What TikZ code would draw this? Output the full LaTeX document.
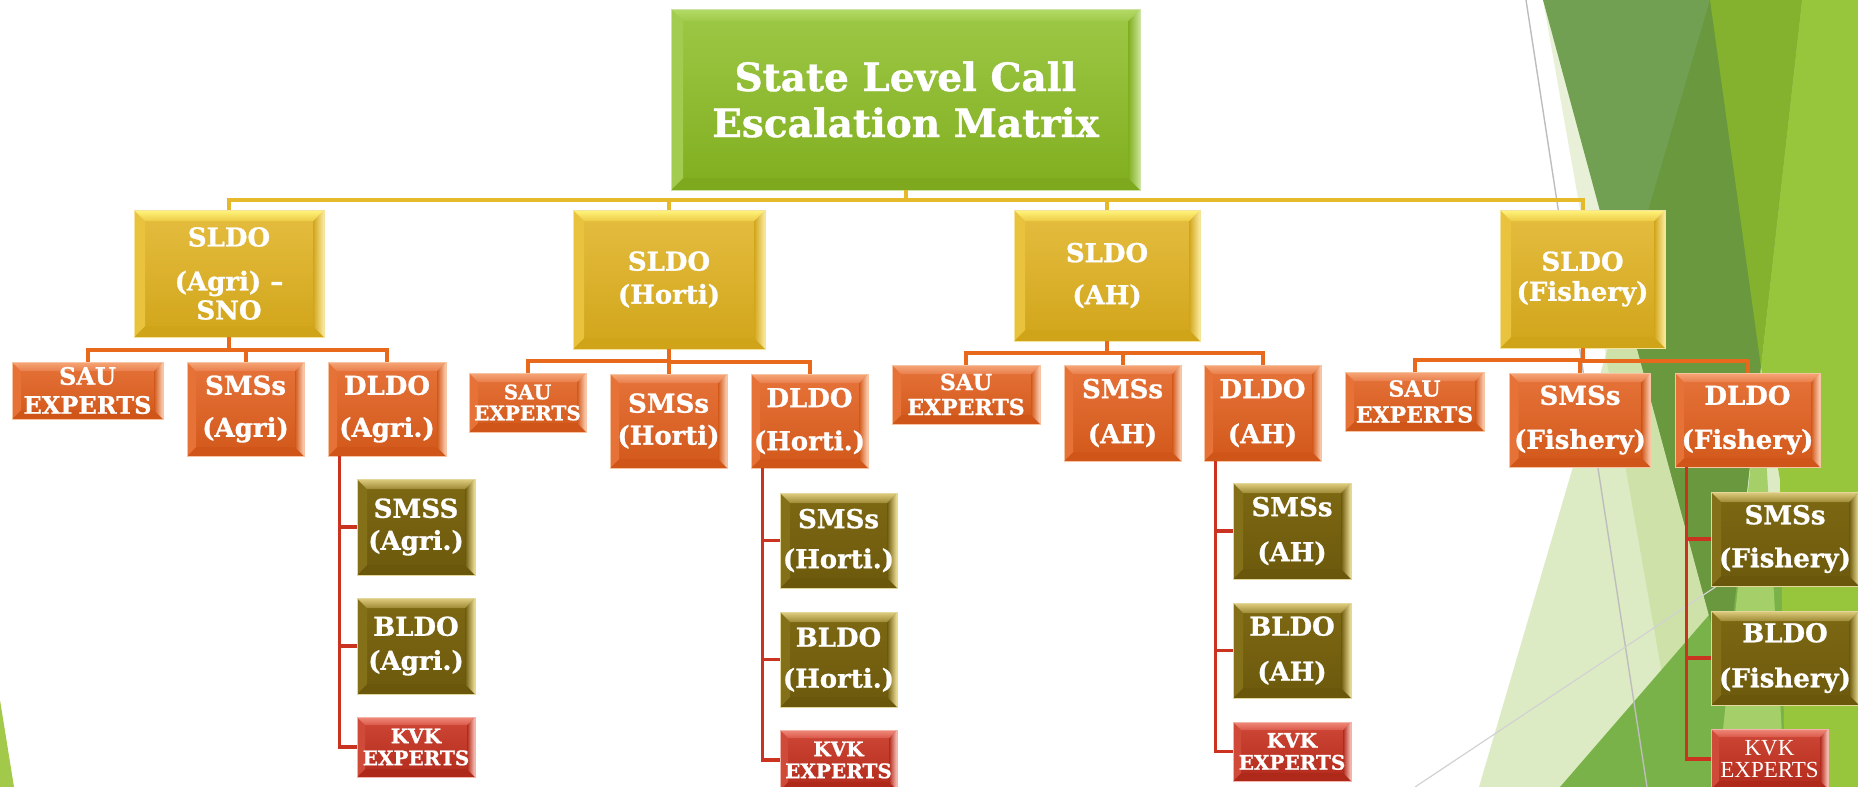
\documentclass[tikz,border=0pt]{standalone}
\usepackage{fontspec}
\setmainfont{DejaVu Serif}[BoldFeatures={FakeBold=1}]
\newfontfamily\thinserif{Liberation Serif}
\usetikzlibrary{calc}

% box colours: face top/bottom, bevels, edge
\definecolor{tFT}{HTML}{9DC847}\definecolor{tFB}{HTML}{80AE1E}
\definecolor{tBT}{HTML}{B4DA66}\definecolor{tBT2}{HTML}{9FCA4A}
\definecolor{tBR}{HTML}{C9E496}\definecolor{tBB}{HTML}{7EA91E}
\definecolor{tBL}{HTML}{A2CC50}\definecolor{tEdge}{HTML}{CDE3A6}

\definecolor{yFT}{HTML}{E5BD40}\definecolor{yFB}{HTML}{D1A51A}
\definecolor{yBT}{HTML}{FFF57E}\definecolor{yBT2}{HTML}{EDCB45}
\definecolor{yBR}{HTML}{FCEBA0}\definecolor{yBB}{HTML}{CFA418}
\definecolor{yBL}{HTML}{E9C33D}\definecolor{yEdge}{HTML}{F6E39A}

\definecolor{oFT}{HTML}{E6733A}\definecolor{oFB}{HTML}{D2581A}
\definecolor{oBT}{HTML}{F7A678}\definecolor{oBT2}{HTML}{E87F4C}
\definecolor{oBR}{HTML}{FCD3B8}\definecolor{oBB}{HTML}{CF5618}
\definecolor{oBL}{HTML}{E67238}\definecolor{oEdge}{HTML}{F6C3A3}

\definecolor{vFT}{HTML}{7D6813}\definecolor{vFB}{HTML}{6C590C}
\definecolor{vBT}{HTML}{E0CE80}\definecolor{vBT2}{HTML}{9E8A35}
\definecolor{vBR}{HTML}{F2E49C}\definecolor{vBB}{HTML}{6A570C}
\definecolor{vBL}{HTML}{85701A}\definecolor{vEdge}{HTML}{E3D79B}

\definecolor{rFT}{HTML}{CF4736}\definecolor{rFB}{HTML}{B22A1B}
\definecolor{rBT}{HTML}{F08A7A}\definecolor{rBT2}{HTML}{D9594A}
\definecolor{rBR}{HTML}{FBC7BE}\definecolor{rBB}{HTML}{AE291A}
\definecolor{rBL}{HTML}{D04A3A}\definecolor{rEdge}{HTML}{F2B4AA}

% connector colours
\definecolor{yLine}{HTML}{E6B92A}
\definecolor{oLine}{HTML}{E8691C}
\definecolor{rLine}{HTML}{C9331F}

% backdrop colours
\definecolor{paleG}{HTML}{DDEBC4}
\definecolor{accentG}{HTML}{8EBC3A}
\definecolor{midG}{HTML}{7AB24A}
\definecolor{mutedG}{HTML}{72A052}
\definecolor{darkG}{HTML}{69983E}
\definecolor{oliveG}{HTML}{84B22F}
\definecolor{brightG}{HTML}{97C63C}
\definecolor{wedgeG}{HTML}{A5CF68}
\definecolor{cornerG}{HTML}{A2C94A}
\definecolor{lineA}{HTML}{BDBDBD}
\definecolor{lineB}{HTML}{D2D2D2}

% bevel faces drawn inside a box: #1 width, #2/#3 top bevel outer/inner,
% #4/#5 right bevel outer/inner, #6 bottom bevel, #7 left bevel
\newcommand{\bevelfaces}[7]{%
  \fill[#6] (path picture bounding box.south west) -- (path picture bounding box.south east)
    -- ([shift={(-#1,#1)}]path picture bounding box.south east)
    -- ([shift={(#1,#1)}]path picture bounding box.south west) -- cycle;
  \fill[#7] (path picture bounding box.north west) -- (path picture bounding box.south west)
    -- ([shift={(#1,#1)}]path picture bounding box.south west)
    -- ([shift={(#1,-#1)}]path picture bounding box.north west) -- cycle;
  \shade[left color=#5, right color=#4] (path picture bounding box.north east)
    -- (path picture bounding box.south east)
    -- ([shift={(-#1,#1)}]path picture bounding box.south east)
    -- ([shift={(-#1,-#1)}]path picture bounding box.north east) -- cycle;
  \shade[top color=#2, bottom color=#3] (path picture bounding box.north west)
    -- (path picture bounding box.north east)
    -- ([shift={(-#1,-#1)}]path picture bounding box.north east)
    -- ([shift={(#1,-#1)}]path picture bounding box.north west) -- cycle;
}
\newcommand{\bx}[2]{\fontsize{#1}{#2}\selectfont\bfseries}

\tikzset{
  box/.style={rectangle, inner sep=0pt, outer sep=0pt, line width=0.8pt,
    text=white, align=center},
  greenbox/.style={box, draw=tEdge, top color=tFT, bottom color=tFB,
    path picture={\bevelfaces{12pt}{tBT}{tBT2}{tBR}{tFB}{tBB}{tBL}}},
  goldbox/.style={box, draw=yEdge, top color=yFT, bottom color=yFB,
    path picture={\bevelfaces{11pt}{yBT}{yBT2}{yBR}{yFB}{yBB}{yBL}}},
  orangebox/.style={box, draw=oEdge, top color=oFT, bottom color=oFB,
    path picture={\bevelfaces{9pt}{oBT}{oBT2}{oBR}{oFB}{oBB}{oBL}}},
  olivebox/.style={box, draw=vEdge, top color=vFT, bottom color=vFB,
    path picture={\bevelfaces{10pt}{vBT}{vBT2}{vBR}{vFB}{vBB}{vBL}}},
  redbox/.style={box, draw=rEdge, top color=rFT, bottom color=rFB,
    path picture={\bevelfaces{8pt}{rBT}{rBT2}{rBR}{rFB}{rBB}{rBL}}},
  goldline/.style={draw=yLine, line width=4pt},
  orangeline/.style={draw=oLine, line width=4pt},
  redline/.style={draw=rLine, line width=3.5pt},
  elbow/.style={to path={(\tikztostart) |- ($(\tikztostart)!0.5!(\tikztotarget)$) -| (\tikztotarget)}},
}

\begin{document}
\begin{tikzpicture}[x=1pt, y=-1pt]
\useasboundingbox (0,0) rectangle (1858,787);
\clip (0,0) rectangle (1858,787);

% ---- backdrop facets ----
\fill[white] (0,0) rectangle (1858,787);
\fill[cornerG] (0,700) -- (14,787) -- (0,787) -- cycle;
\fill[paleG] (1710,0) -- (1479,787) -- (1858,787) -- (1858,0) -- cycle;
\fill[accentG, opacity=.2] (1543,0) -- (1682,787) -- (1760,787) -- cycle;
\fill[midG] (1560,787) -- (1858,443) -- (1858,787) -- cycle;
\fill[mutedG] (1543,0) -- (1802,0) -- (1726,678) -- cycle;
\begin{scope}
  \clip (1710,0) -- (1479,787) -- (1858,787) -- (1858,0) -- cycle;
  \fill[darkG] (1543,0) -- (1802,0) -- (1726,678) -- cycle;
\end{scope}
\fill[oliveG] (1710,0) -- (1802,0) -- (1761,367) -- cycle;
\fill[brightG] (1802,0) -- (1858,0) -- (1858,787) -- (1785,787) -- (1780,480) -- (1761,367) -- cycle;
\fill[wedgeG] (1761,367) -- (1785,787) -- (1717,787) -- cycle;
\draw[lineA, line width=1.4pt] (1526,0) -- (1647,787);
\draw[lineB, line width=1.2pt] (1415,787) -- (1858,492);

% ---- top ----
\node[greenbox, minimum width=469pt, minimum height=181pt, font=\bx{39}{46}]
  (top) at (905.5,99.5) {State Level Call\\Escalation Matrix};

% ---- state level officers ----
\node[goldbox, minimum width=190pt, minimum height=127pt, font=\bx{26}{29}]
  (s1) at (229,273.5) {SLDO\\[15pt](Agri) –\\SNO};
\node[goldbox, minimum width=192pt, minimum height=139pt, font=\bx{26}{33}]
  (s2) at (669,279.5) {SLDO\\(Horti)};
\node[goldbox, minimum width=186pt, minimum height=131pt, font=\bx{26}{42}]
  (s3) at (1107,275.5) {SLDO\\(AH)};
\node[goldbox, minimum width=165pt, minimum height=138pt, font=\bx{26}{30}]
  (s4) at (1582.5,279) {SLDO\\(Fishery)};

% ---- Agri branch ----
\node[orangebox, minimum width=151pt, minimum height=57pt, font=\bx{24}{29}]
  (a1) at (87.5,390.5) {SAU\\EXPERTS};
\node[orangebox, minimum width=117pt, minimum height=94pt, font=\bx{26}{42}]
  (b1) at (245.5,409) {SMSs\\(Agri)};
\node[orangebox, minimum width=118pt, minimum height=94pt, font=\bx{26}{42}]
  (c1) at (387,409) {DLDO\\(Agri.)};
\node[olivebox, minimum width=118pt, minimum height=96pt, font=\bx{26}{32}]
  (d1) at (416,527) {SMSS\\(Agri.)};
\node[olivebox, minimum width=118pt, minimum height=96pt, font=\bx{26}{34}]
  (e1) at (416,646) {BLDO\\(Agri.)};
\node[redbox, minimum width=118pt, minimum height=60pt, font=\bx{20}{22}]
  (f1) at (416,747) {KVK\\EXPERTS};

% ---- Horti branch ----
\node[orangebox, minimum width=117pt, minimum height=59pt, font=\bx{20}{21}]
  (a2) at (527.5,402.5) {SAU\\EXPERTS};
\node[orangebox, minimum width=117pt, minimum height=94pt, font=\bx{26}{32}]
  (b2) at (668.5,421) {SMSs\\(Horti)};
\node[orangebox, minimum width=117pt, minimum height=94pt, font=\bx{26}{43}]
  (c2) at (809.5,421) {DLDO\\(Horti.)};
\node[olivebox, minimum width=117pt, minimum height=95pt, font=\bx{26}{40}]
  (d2) at (838.5,540.5) {SMSs\\(Horti.)};
\node[olivebox, minimum width=117pt, minimum height=95pt, font=\bx{26}{41}]
  (e2) at (838.5,659.5) {BLDO\\(Horti.)};
\node[redbox, minimum width=117pt, minimum height=60pt, font=\bx{20}{22}]
  (f2) at (838.5,760) {KVK\\EXPERTS};

% ---- AH branch ----
\node[orangebox, minimum width=148pt, minimum height=59pt, font=\bx{22}{25}]
  (a3) at (966,394.5) {SAU\\EXPERTS};
\node[orangebox, minimum width=117pt, minimum height=96pt, font=\bx{26}{45}]
  (b3) at (1122.5,413) {SMSs\\(AH)};
\node[orangebox, minimum width=117pt, minimum height=96pt, font=\bx{26}{45}]
  (c3) at (1262.5,413) {DLDO\\(AH)};
\node[olivebox, minimum width=118pt, minimum height=96pt, font=\bx{26}{45}]
  (d3) at (1292,531) {SMSs\\(AH)};
\node[olivebox, minimum width=118pt, minimum height=95pt, font=\bx{26}{45}]
  (e3) at (1292,650.5) {BLDO\\(AH)};
\node[redbox, minimum width=118pt, minimum height=59pt, font=\bx{20}{22}]
  (f3) at (1292,751.5) {KVK\\EXPERTS};

% ---- Fishery branch ----
\node[orangebox, minimum width=139pt, minimum height=59pt, font=\bx{22}{26}]
  (a4) at (1414.5,401.5) {SAU\\EXPERTS};
\node[orangebox, minimum width=141pt, minimum height=94pt, font=\bx{26}{44}]
  (b4) at (1580,420) {SMSs\\(Fishery)};
\node[orangebox, minimum width=145pt, minimum height=94pt, font=\bx{26}{44}]
  (c4) at (1747.5,420) {DLDO\\(Fishery)};
\node[olivebox, minimum width=148pt, minimum height=94pt, font=\bx{26}{43}]
  (d4) at (1785,539) {SMSs\\(Fishery)};
\node[olivebox, minimum width=148pt, minimum height=94pt, font=\bx{26}{45}]
  (e4) at (1785,658) {BLDO\\(Fishery)};
\node[redbox, minimum width=117pt, minimum height=60pt,
  font=\thinserif\fontsize{23}{22}\selectfont]
  (f4) at (1769.5,759) {KVK\\EXPERTS};

% ---- connectors ----
\foreach \s in {s1,s2,s3,s4} \draw[goldline] (top.south) to[elbow] (\s.north);
\foreach \p/\c in {s1/a1,s1/b1,s1/c1,s2/a2,s2/b2,s2/c2,s3/a3,s3/b3,s3/c3,s4/a4,s4/b4,s4/c4}
  \draw[orangeline] (\p.south) to[elbow] (\c.north);
\foreach \p/\c in {c1/d1,c1/e1,c1/f1,c2/d2,c2/e2,c2/f2,c3/d3,c3/e3,c3/f3,c4/d4,c4/e4,c4/f4}
  \draw[redline] ([xshift=11.5pt]\p.south west) |- (\c.west);
\end{tikzpicture}
\end{document}
